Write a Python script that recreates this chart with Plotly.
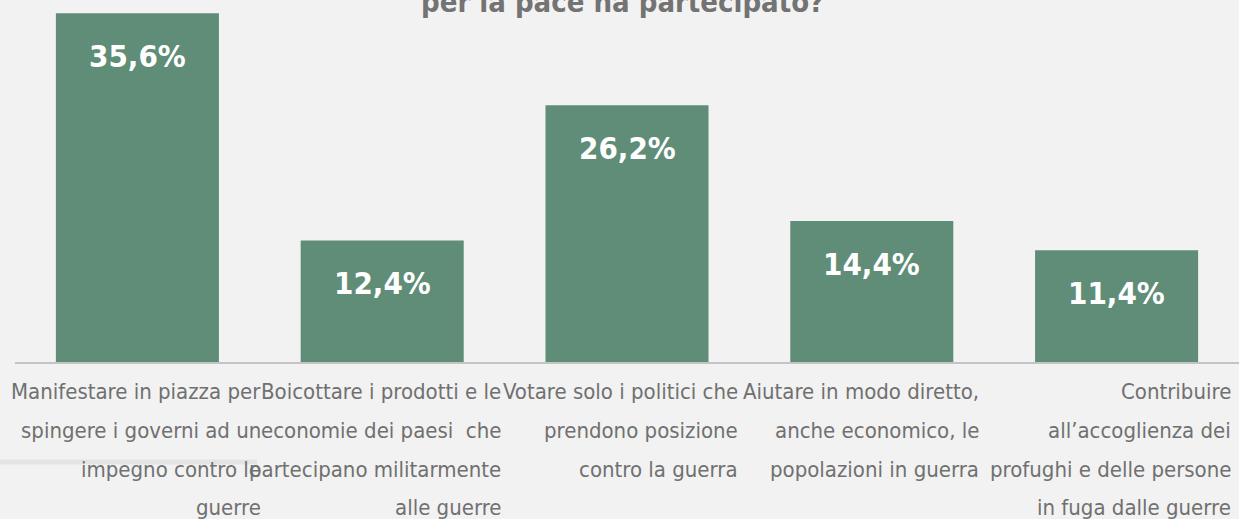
import plotly.graph_objects as go

# ---- data ----
categories = [
    "Manifestare in piazza per spingere i governi ad un impegno contro le guerre",
    "Boicottare i prodotti e le economie dei paesi che partecipano militarmente alle guerre",
    "Votare solo i politici che prendono posizione contro la guerra",
    "Aiutare in modo diretto, anche economico, le popolazioni in guerra",
    "Contribuire all\u2019accoglienza dei profughi e delle persone in fuga dalle guerre",
]
category_lines = [
    ["Manifestare in piazza per", "spingere i governi ad un", "impegno contro le", "guerre"],
    ["Boicottare i prodotti e le", "economie dei paesi  che", "partecipano militarmente", "alle guerre"],
    ["Votare solo i politici che", "prendono posizione", "contro la guerra"],
    ["Aiutare in modo diretto,", "anche economico, le", "popolazioni in guerra"],
    ["Contribuire", "all\u2019accoglienza dei", "profughi e delle persone", "in fuga dalle guerre"],
]
values = [35.6, 12.4, 26.2, 14.4, 11.4]
value_labels = ["35,6%", "12,4%", "26,2%", "14,4%", "11,4%"]
title_text = "per la pace ha partecipato?"

# ---- style ----
BG = "#f2f2f2"
BAR = "#5f8d77"
GREY_TXT = "#707070"
FONT = "DejaVu Sans Condensed, Liberation Sans Narrow, sans-serif"
label_xshift = [126, 121, 113, 109, 116]

x_idx = list(range(len(categories)))

fig = go.Figure()
fig.add_trace(go.Bar(
    x=x_idx, y=values, marker=dict(color=BAR, line=dict(width=0)),
    hoverinfo="skip", showlegend=False,
))

annotations = []
for i, (v, t) in enumerate(zip(values, value_labels)):
    annotations.append(dict(
        x=i, y=v, xref="x", yref="y", text="<b>" + t + "</b>", showarrow=False,
        yanchor="middle", xanchor="center", yshift=-43,
        font=dict(family=FONT, size=31, color="white"),
    ))

line_offsets = [29, 68, 107, 145]
for i, lines in enumerate(category_lines):
    for j, ln in enumerate(lines):
        annotations.append(dict(
            x=i, y=0, xref="x", yref="paper", text=ln, showarrow=False,
            xanchor="right", yanchor="middle", align="right",
            xshift=label_xshift[i], yshift=-line_offsets[j],
            font=dict(family=FONT, size=22, color=GREY_TXT),
        ))

annotations.append(dict(
    x=0.496, y=1, xref="paper", yref="paper", text="<b>" + title_text + "</b>",
    showarrow=False, xanchor="center", yanchor="bottom", yshift=-21,
    font=dict(family=FONT, size=29, color="#737373"),
))

fig.update_layout(
    width=1239, height=519,
    paper_bgcolor=BG, plot_bgcolor=BG,
    margin=dict(l=15, r=0, t=0, b=157),
    bargap=0.334,
    xaxis=dict(range=[-0.5, 4.5], showticklabels=False, showgrid=False,
               zeroline=False, showline=True, linecolor="#c4c4c4", linewidth=2,
               ticks="", fixedrange=True),
    yaxis=dict(range=[0, 36.94], visible=False, showgrid=False, zeroline=False,
               fixedrange=True),
    annotations=annotations,
    shapes=[dict(type="line", xref="paper", yref="paper",
                 x0=-15 / 1224, x1=242 / 1224, y0=-100 / 362, y1=-100 / 362,
                 line=dict(color="#e4e4e4", width=5), layer="below")],
)

fig.write_html(
    "out.html",
    config={"displayModeBar": False},
    post_script="document.body.style.margin='0';document.body.style.padding='0';document.body.style.background='#f2f2f2';",
)
